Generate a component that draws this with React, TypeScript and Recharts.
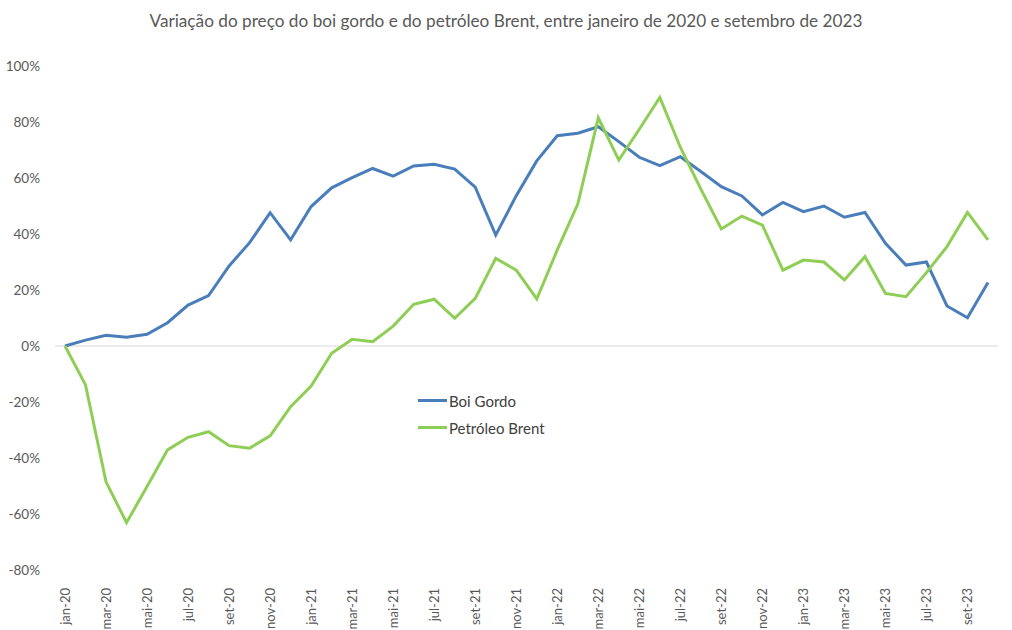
import { LineChart, Line, XAxis, YAxis, ReferenceLine } from 'recharts';

// meses de jan-20 a out-23
const meses = [
  'jan-20', 'fev-20', 'mar-20', 'abr-20', 'mai-20', 'jun-20', 'jul-20', 'ago-20', 'set-20', 'out-20', 'nov-20', 'dez-20',
  'jan-21', 'fev-21', 'mar-21', 'abr-21', 'mai-21', 'jun-21', 'jul-21', 'ago-21', 'set-21', 'out-21', 'nov-21', 'dez-21',
  'jan-22', 'fev-22', 'mar-22', 'abr-22', 'mai-22', 'jun-22', 'jul-22', 'ago-22', 'set-22', 'out-22', 'nov-22', 'dez-22',
  'jan-23', 'fev-23', 'mar-23', 'abr-23', 'mai-23', 'jun-23', 'jul-23', 'ago-23', 'set-23', 'out-23',
];

// variação acumulada (%) desde jan-20
const boiGordo = [
  0, 2.1, 3.8, 3.1, 4.2, 8.3, 14.6, 18, 28.6, 36.9, 47.6, 37.9,
  49.8, 56.5, 60.1, 63.4, 60.7, 64.3, 64.9, 63.2, 56.7, 39.6, 53.7, 66.1,
  75.1, 76, 78.3, 73, 67.4, 64.4, 67.6, 62.3, 56.9, 53.6, 46.8, 51.3,
  48, 50, 46, 47.7, 36.7, 28.9, 30, 14.3, 10.1, 22.7,
];

const petroleoBrent = [
  0, -13.9, -48.5, -63.1, -50.2, -37.1, -32.6, -30.6, -35.6, -36.5, -32.1, -21.7,
  -14.3, -2.6, 2.4, 1.5, 7.1, 14.9, 16.7, 9.9, 17, 31.3, 27.1, 16.8,
  34.3, 50.7, 81.5, 66.4, 77.4, 88.8, 71, 56, 41.8, 46.4, 43.2, 27.1,
  30.7, 30, 23.6, 31.9, 18.8, 17.6, 26.2, 35.5, 47.7, 37.9,
];

const yTicks = [-80, -60, -40, -20, 0, 20, 40, 60, 80, 100];

const dados = meses.map((mes, i) => ({
  mes,
  boi: boiGordo[i],
  brent: petroleoBrent[i],
}));

const FONTE = 'Lato, "Noto Sans", sans-serif';
const AZUL = '#4a7ebb';
const VERDE = '#8fce55';

const series = [
  { nome: 'Boi Gordo', cor: AZUL },
  { nome: 'Petróleo Brent', cor: VERDE },
];

const MesTick = (props: any) => {
  const { x, y, payload } = props;
  return (
    <text
      x={0}
      y={0}
      transform={`translate(${x},${y + 10}) rotate(-90)`}
      textAnchor="end"
      dy="0.35em"
      fill="#595959"
      fontSize={13}
      fontFamily={FONTE}
    >
      {payload.value}
    </text>
  );
};

// legenda solta dentro da área do gráfico
const Legenda = () => (
  <div
    style={{
      position: 'absolute',
      left: 418,
      top: 387,
      fontFamily: FONTE,
      fontSize: 15,
      color: '#404040',
    }}
  >
    {series.map((item) => (
      <div key={item.nome} style={{ display: 'flex', alignItems: 'center', height: 27 }}>
        <span style={{ width: 29, height: 3, background: item.cor, marginRight: 2 }} />
        {item.nome}
      </div>
    ))}
  </div>
);

export default function App() {
  return (
    <div style={{ position: 'absolute', left: 0, top: 0, width: 1012, height: 630, background: '#fff' }}>
      <div
        style={{
          position: 'absolute',
          top: 10,
          left: 0,
          width: 1012,
          textAlign: 'center',
          fontFamily: FONTE,
          fontSize: 17.2,
          color: '#595959',
        }}
      >
        Variação do preço do boi gordo e do petróleo Brent, entre janeiro de 2020 e setembro de 2023
      </div>
      <LineChart width={1012} height={630} data={dados} margin={{ top: 66, right: 14, bottom: 0, left: 0 }}>
        <XAxis
          dataKey="mes"
          interval={1}
          axisLine={false}
          tickLine={false}
          height={60}
          padding={{ left: 10, right: 10 }}
          tick={<MesTick />}
        />
        <YAxis
          width={55}
          domain={[-80, 100]}
          ticks={yTicks}
          axisLine={false}
          tickLine={false}
          tickSize={0}
          tickMargin={15}
          tickFormatter={(v: number) => `${v}%`}
          tick={{ fill: '#595959', fontSize: 13.5, fontFamily: FONTE }}
        />
        <ReferenceLine y={0} stroke="#d9d9d9" strokeWidth={1} />
        <Line
          dataKey="boi"
          name="Boi Gordo"
          stroke={AZUL}
          strokeWidth={3}
          dot={false}
          isAnimationActive={false}
        />
        <Line
          dataKey="brent"
          name="Petróleo Brent"
          stroke={VERDE}
          strokeWidth={3}
          dot={false}
          isAnimationActive={false}
        />
      </LineChart>
      <Legenda />
    </div>
  );
}
